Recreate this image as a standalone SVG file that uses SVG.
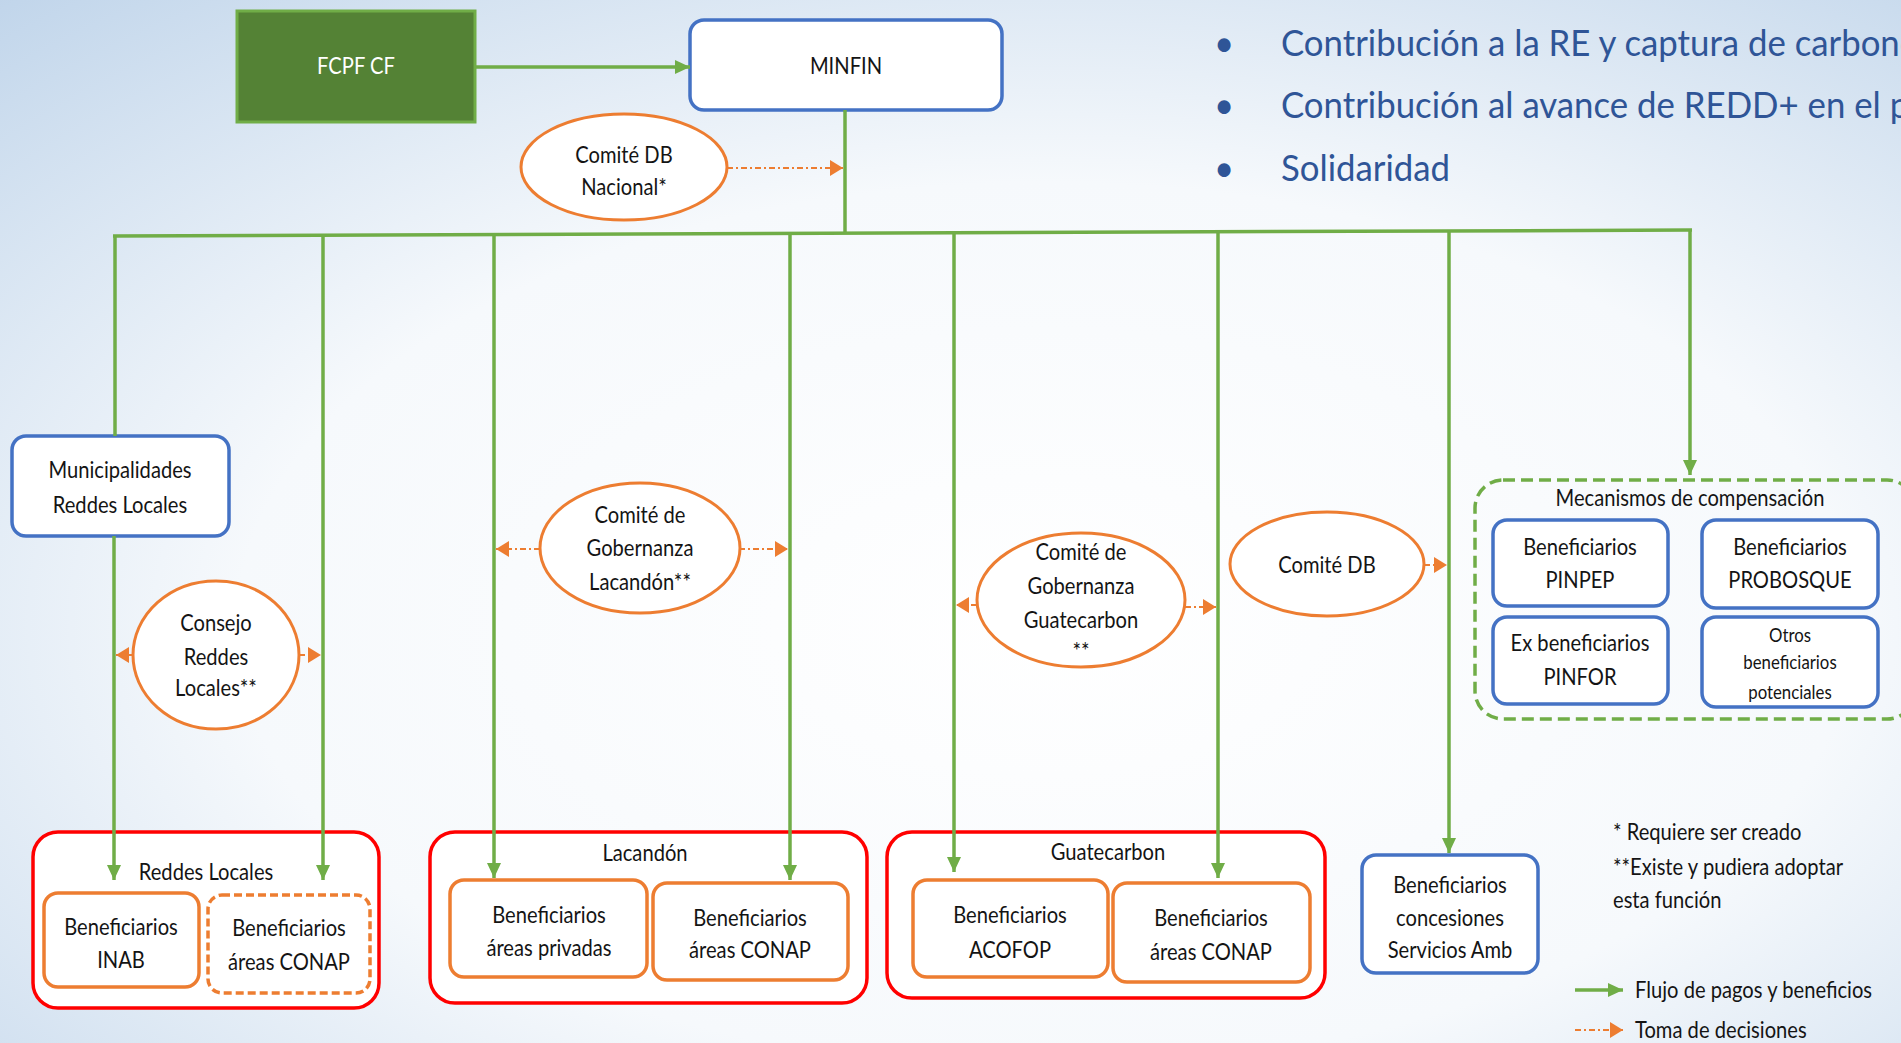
<svg xmlns="http://www.w3.org/2000/svg" width="1901" height="1043" viewBox="0 0 1901 1043">
<style>
.t{font-family:Lato,"Liberation Sans",sans-serif;font-size:24px;fill:#141414;text-anchor:middle;transform-box:fill-box;transform-origin:center;transform:scaleX(0.84)}
.tl{font-family:Lato,"Liberation Sans",sans-serif;font-size:24px;fill:#141414;text-anchor:start;transform-box:fill-box;transform-origin:left center;transform:scaleX(0.84)}
.sm{font-size:20px}
.w{fill:#ffffff}
.bl{font-family:Lato,"Liberation Sans",sans-serif;font-size:37px;fill:#2f5597;transform-box:fill-box;transform-origin:left center;transform:scaleX(0.94)}
.g{fill:none;stroke:#70ad47;stroke-width:3.5}
.ga{fill:none;stroke:#70ad47;stroke-width:3.5;marker-end:url(#ag)}
.oa{fill:none;stroke:#ed7d31;stroke-width:2;stroke-dasharray:6 3 2 3;marker-end:url(#ao)}
.ob{fill:#ffffff;stroke:#ed7d31;stroke-width:3}
.bb{fill:#ffffff;stroke:#4472c4;stroke-width:3.5}
.rb{fill:#ffffff;stroke:#ff0000;stroke-width:3.5}
.orb{fill:#ffffff;stroke:#ed7d31;stroke-width:3.5}
</style>
<defs>
<radialGradient id="bg" cx="0.55" cy="0.6" r="0.85">
<stop offset="0" stop-color="#ffffff"/>
<stop offset="0.5" stop-color="#f6f9fc"/>
<stop offset="1" stop-color="#bcd2e9"/>
</radialGradient>
<marker id="ag" markerUnits="userSpaceOnUse" markerWidth="16" markerHeight="14" refX="15" refY="7" orient="auto">
<path d="M0,0 L15,7 L0,14 Z" fill="#70ad47"/>
</marker>
<marker id="ao" markerUnits="userSpaceOnUse" markerWidth="14" markerHeight="16" refX="13" refY="8" orient="auto">
<path d="M0,0 L13,8 L0,16 Z" fill="#ed7d31"/>
</marker>
</defs>
<rect x="0" y="0" width="1901" height="1043" fill="url(#bg)"/>

<g id="bullets">
<text class="bl" x="1214" y="56">•</text>
<text class="bl" x="1281" y="56">Contribución a la RE y captura de carbono</text>
<text class="bl" x="1214" y="118">•</text>
<text class="bl" x="1281" y="118">Contribución al avance de REDD+ en el país</text>
<text class="bl" x="1214" y="181">•</text>
<text class="bl" x="1281" y="181">Solidaridad</text>
</g>

<g id="fcpf">
<rect x="237" y="11" width="238" height="111" fill="#548235" stroke="#70ad47" stroke-width="3"/>
<text class="t w" x="356" y="74">FCPF CF</text>
</g>
<g id="minfin">
<rect class="bb" x="690" y="20" width="312" height="90" rx="14"/>
<text class="t" x="846" y="74">MINFIN</text>
</g>
<g id="comite-db-nacional">
<ellipse class="ob" cx="624" cy="167" rx="103" ry="53"/>
<text class="t" x="624" y="163">Comité DB</text>
<text class="t" x="624" y="195">Nacional*</text>
</g>
<g id="municipalidades">
<rect class="bb" x="12" y="436" width="217" height="100" rx="14"/>
<text class="t" x="120" y="478">Municipalidades</text>
<text class="t" x="120" y="513">Reddes Locales</text>
</g>
<g id="consejo">
<ellipse class="ob" cx="216" cy="655" rx="83" ry="74"/>
<text class="t" x="216" y="631">Consejo</text>
<text class="t" x="216" y="665">Reddes</text>
<text class="t" x="216" y="696">Locales**</text>
</g>
<g id="gob-lacandon">
<ellipse class="ob" cx="640" cy="548" rx="100" ry="65"/>
<text class="t" x="640" y="523">Comité de</text>
<text class="t" x="640" y="556">Gobernanza</text>
<text class="t" x="640" y="590">Lacandón**</text>
</g>
<g id="gob-guatecarbon">
<ellipse class="ob" cx="1081" cy="600" rx="104" ry="67"/>
<text class="t" x="1081" y="560">Comité de</text>
<text class="t" x="1081" y="594">Gobernanza</text>
<text class="t" x="1081" y="628">Guatecarbon</text>
<text class="t" x="1081" y="659">**</text>
</g>
<g id="comite-db">
<ellipse class="ob" cx="1327" cy="564" rx="97" ry="52"/>
<text class="t" x="1327" y="573">Comité DB</text>
</g>
<g id="mecanismos">
<rect x="1475" y="480" width="440" height="239" rx="28" fill="none" stroke="#70ad47" stroke-width="3.5" stroke-dasharray="12 6"/>
<text class="t" x="1690" y="506">Mecanismos de compensación</text>
</g>
<g id="pinpep">
<rect class="bb" x="1493" y="520" width="175" height="86" rx="14"/>
<text class="t" x="1580" y="555">Beneficiarios</text>
<text class="t" x="1580" y="588">PINPEP</text>
</g>
<g id="probosque">
<rect class="bb" x="1702" y="520" width="176" height="88" rx="14"/>
<text class="t" x="1790" y="555">Beneficiarios</text>
<text class="t" x="1790" y="588">PROBOSQUE</text>
</g>
<g id="pinfor">
<rect class="bb" x="1493" y="617" width="175" height="87" rx="14"/>
<text class="t" x="1580" y="651">Ex beneficiarios</text>
<text class="t" x="1580" y="685">PINFOR</text>
</g>
<g id="otros">
<rect class="bb" x="1702" y="617" width="176" height="90" rx="14"/>
<text class="t sm" x="1790" y="642">Otros</text>
<text class="t sm" x="1790" y="669">beneficiarios</text>
<text class="t sm" x="1790" y="699">potenciales</text>
</g>
<g id="reddes-locales">
<rect class="rb" x="33" y="832" width="346" height="176" rx="25"/>
<text class="t" x="206" y="880">Reddes Locales</text>
</g>
<g id="inab">
<rect class="orb" x="44" y="893" width="155" height="94" rx="14"/>
<text class="t" x="121" y="935">Beneficiarios</text>
<text class="t" x="121" y="968">INAB</text>
</g>
<g id="conap-reddes">
<rect class="orb" x="208" y="895" width="162" height="98" rx="14" stroke-dasharray="8 4"/>
<text class="t" x="289" y="936">Beneficiarios</text>
<text class="t" x="289" y="970">áreas CONAP</text>
</g>
<g id="lacandon">
<rect class="rb" x="430" y="832" width="437" height="171" rx="25"/>
<text class="t" x="645" y="861">Lacandón</text>
</g>
<g id="privadas">
<rect class="orb" x="450" y="880" width="197" height="97" rx="14"/>
<text class="t" x="549" y="923">Beneficiarios</text>
<text class="t" x="549" y="956">áreas privadas</text>
</g>
<g id="conap-lacandon">
<rect class="orb" x="653" y="883" width="195" height="97" rx="14"/>
<text class="t" x="750" y="926">Beneficiarios</text>
<text class="t" x="750" y="958">áreas CONAP</text>
</g>
<g id="guatecarbon">
<rect class="rb" x="887" y="832" width="438" height="166" rx="25"/>
<text class="t" x="1108" y="860">Guatecarbon</text>
</g>
<g id="acofop">
<rect class="orb" x="913" y="880" width="195" height="97" rx="14"/>
<text class="t" x="1010" y="923">Beneficiarios</text>
<text class="t" x="1010" y="958">ACOFOP</text>
</g>
<g id="conap-guatecarbon">
<rect class="orb" x="1113" y="883" width="197" height="99" rx="14"/>
<text class="t" x="1211" y="926">Beneficiarios</text>
<text class="t" x="1211" y="960">áreas CONAP</text>
</g>
<g id="concesiones">
<rect class="bb" x="1362" y="855" width="176" height="118" rx="14"/>
<text class="t" x="1450" y="893">Beneficiarios</text>
<text class="t" x="1450" y="926">concesiones</text>
<text class="t" x="1450" y="958">Servicios Amb</text>
</g>
<g id="notes">
<text class="tl" x="1613" y="840">* Requiere ser creado</text>
<text class="tl" x="1613" y="875">**Existe y pudiera adoptar</text>
<text class="tl" x="1613" y="908">esta función</text>
</g>
<g id="legend">
<line class="ga" x1="1575" y1="990" x2="1623" y2="990"/>
<text class="tl" x="1635" y="998">Flujo de pagos y beneficios</text>
<line class="oa" x1="1575" y1="1030" x2="1623" y2="1030"/>
<text class="tl" x="1635" y="1038">Toma de decisiones</text>
</g>

<g id="connectors">
<line class="ga" x1="476" y1="67" x2="690" y2="67"/>
<line class="g" x1="845" y1="110" x2="845" y2="234"/>
<line class="g" x1="113" y1="236" x2="1692" y2="230"/>
<line class="g" x1="115" y1="236" x2="115" y2="436"/>
<line class="ga" x1="114" y1="536" x2="114" y2="880"/>
<line class="ga" x1="323" y1="235" x2="323" y2="880"/>
<line class="ga" x1="494" y1="235" x2="494" y2="878"/>
<line class="ga" x1="790" y1="233" x2="790" y2="880"/>
<line class="ga" x1="954" y1="233" x2="954" y2="872"/>
<line class="ga" x1="1218" y1="232" x2="1218" y2="878"/>
<line class="ga" x1="1449" y1="231" x2="1449" y2="853"/>
<line class="ga" x1="1690" y1="230" x2="1690" y2="475"/>
<line class="oa" x1="727" y1="168" x2="843" y2="168"/>
<line class="oa" x1="133" y1="655" x2="116" y2="655"/>
<line class="oa" x1="299" y1="655" x2="321" y2="655"/>
<line class="oa" x1="540" y1="549" x2="496" y2="549"/>
<line class="oa" x1="739" y1="549" x2="788" y2="549"/>
<line class="oa" x1="977" y1="605" x2="956" y2="605"/>
<line class="oa" x1="1185" y1="607" x2="1216" y2="607"/>
<line class="oa" x1="1424" y1="565" x2="1447" y2="565"/>
</g>
</svg>
